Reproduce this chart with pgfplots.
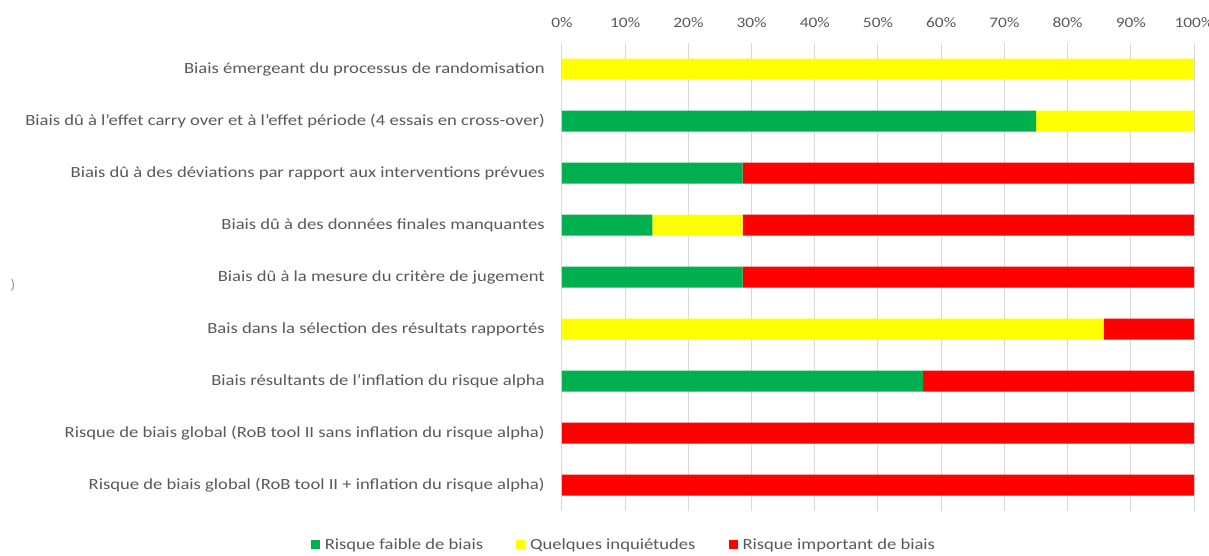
\documentclass[border=0pt]{standalone}
\usepackage{pgfplots}
\pgfplotsset{compat=1.18}
\usepackage{fontspec}
\setmainfont{Carlito}[FakeStretch=1.2]
\definecolor{cgreen}{HTML}{00B050}
\definecolor{cyellow}{HTML}{FFFF00}
\definecolor{cred}{HTML}{FF0000}
\definecolor{ctext}{HTML}{595959}
\definecolor{cgrid}{HTML}{D9D9D9}
\begin{document}
\fontsize{15.5}{18}\selectfont
\begin{tikzpicture}[x=1pt,y=1pt]
\path[use as bounding box] (-562,-45) rectangle (647,511);
\begin{axis}[
  at={(0,0)}, anchor=south west,
  scale only axis, width=632pt, height=468pt,
  xbar stacked, bar width=21pt,
  xmin=0, xmax=100,
  ymin=-0.5, ymax=8.5, y dir=reverse,
  ytick={0,...,8},
  yticklabels={
    Biais émergeant du processus de randomisation,
    Biais dû à l'effet carry over et à l'effet période (4 essais en cross-over),
    Biais dû à des déviations par rapport aux interventions prévues,
    Biais dû à des données finales manquantes,
    Biais dû à la mesure du critère de jugement,
    Bais dans la sélection des résultats rapportés,
    Biais résultants de l'inflation du risque alpha,
    Risque de biais global (RoB tool II sans inflation du risque alpha),
    Risque de biais global (RoB tool II + inflation du risque alpha)},
  xtick={0,10,...,100},
  xticklabel={\pgfmathprintnumber{\tick}\%},
  xticklabel pos=upper,
  /pgf/number format/assume math mode=true,
  major tick length=0pt,
  xmajorgrids, grid style={cgrid, line width=1pt},
  axis line style={draw=none},
  y tick label style={text=ctext, font=\fontsize{15.5}{18}\selectfont, xshift=-12pt},
  x tick label style={text=ctext, font=\fontsize{14.5}{17}\selectfont, yshift=10pt},
  legend columns=3,
  legend style={draw=none, at={(0.098,-0.0726)}, anchor=center,
    font=\fontsize{15.5}{18}\selectfont, text=ctext,
    /tikz/every even column/.append style={column sep=31pt},
    /tikz/every odd column/.append style={column sep=3pt}},
  legend image code/.code={\fill[#1] (0pt,-4.5pt) rectangle (9pt,4.5pt);},
]
\addplot[fill=cgreen, draw=none] coordinates {(0,0) (75,1) (28.57,2) (14.29,3) (28.57,4) (0,5) (57.14,6) (0,7) (0,8)};
\addplot[fill=cyellow, draw=none] coordinates {(100,0) (25,1) (0,2) (14.29,3) (0,4) (85.71,5) (0,6) (0,7) (0,8)};
\addplot[fill=cred, draw=none] coordinates {(0,0) (0,1) (71.43,2) (71.42,3) (71.43,4) (14.29,5) (42.86,6) (100,7) (100,8)};
\legend{Risque faible de biais, Quelques inquiétudes, Risque important de biais}
\end{axis}
\node[text=ctext!60, font=\fontsize{14}{16}\selectfont] at (-549,226) {)};
\end{tikzpicture}
\end{document}
